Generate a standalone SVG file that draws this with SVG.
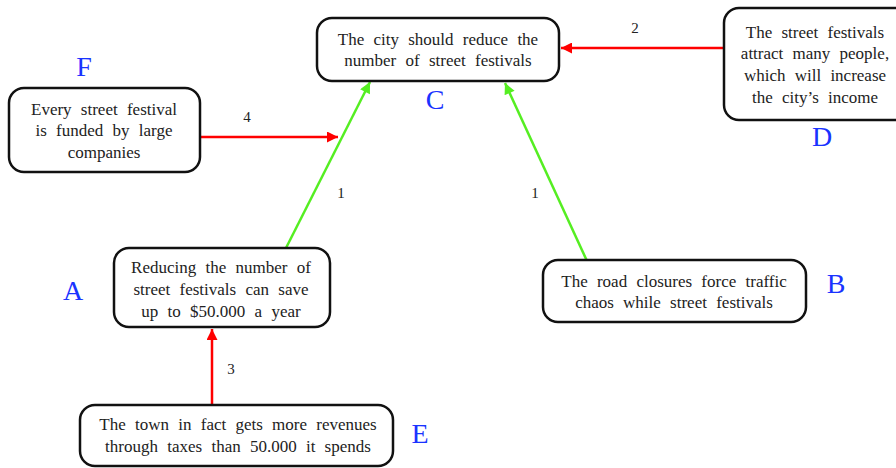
<svg xmlns="http://www.w3.org/2000/svg" width="896" height="468" viewBox="0 0 896 468">
<defs>
<marker id="ar" viewBox="0 0 10 10" refX="10" refY="5" markerWidth="16" markerHeight="11" markerUnits="userSpaceOnUse" orient="auto"><path d="M0,0 L10,5 L0,10 z" fill="#ff0000"/></marker>
<marker id="ag" viewBox="0 0 10 10" refX="10" refY="5" markerWidth="16" markerHeight="11" markerUnits="userSpaceOnUse" orient="auto"><path d="M0,0 L10,5 L0,10 z" fill="#55ee22"/></marker>
</defs>
<style>
.box{fill:#fff;stroke:#111;stroke-width:2.5}
.t{font-family:"Liberation Serif","Times New Roman",serif;font-size:17px;fill:#222;text-anchor:middle;word-spacing:5px}
.lab{font-family:"Liberation Serif","Times New Roman",serif;font-size:28px;fill:#1a33ff;text-anchor:middle}
.n{font-family:"Liberation Serif","Times New Roman",serif;font-size:15px;fill:#222;text-anchor:middle}
.r{stroke:#ff0000;stroke-width:2.5;fill:none;marker-end:url(#ar)}
.g{stroke:#55ee22;stroke-width:2.5;fill:none;marker-end:url(#ag)}
</style>
<rect width="896" height="468" fill="#fff"/>
<g id="connectors">
<line class="r" x1="723" y1="48" x2="561" y2="48"/>
<line class="r" x1="200" y1="137" x2="338" y2="137"/>
<line class="r" x1="212" y1="405" x2="212" y2="329"/>
<line class="g" x1="286" y1="248" x2="370" y2="82"/>
<line class="g" x1="587" y1="261" x2="505" y2="83"/>
<text class="n" x="635" y="33">2</text>
<text class="n" x="247" y="122">4</text>
<text class="n" x="231" y="374">3</text>
<text class="n" x="341" y="198">1</text>
<text class="n" x="535" y="198">1</text>
</g>
<g id="C">
<rect class="box" x="317" y="18" width="242" height="63" rx="15"/>
<text class="t" x="438" y="45">The city should reduce the</text>
<text class="t" x="438" y="66">number of street festivals</text>
<text class="lab" x="435" y="109">C</text>
</g>
<g id="D">
<rect class="box" x="724" y="8" width="190" height="112" rx="15"/>
<text class="t" x="815" y="38">The street festivals</text>
<text class="t" x="815" y="59">attract many people,</text>
<text class="t" x="815" y="81">which will increase</text>
<text class="t" x="815" y="103">the city’s income</text>
<text class="lab" x="822" y="146">D</text>
</g>
<g id="F">
<rect class="box" x="9" y="88" width="191" height="84" rx="15"/>
<text class="t" x="104" y="115">Every street festival</text>
<text class="t" x="104" y="136">is funded by large</text>
<text class="t" x="104" y="158">companies</text>
<text class="lab" x="84" y="76">F</text>
</g>
<g id="A">
<rect class="box" x="114" y="248" width="216" height="79" rx="15"/>
<text class="t" x="221" y="273">Reducing the number of</text>
<text class="t" x="221" y="295">street festivals can save</text>
<text class="t" x="221" y="317">up to $50.000 a year</text>
<text class="lab" x="73" y="300">A</text>
</g>
<g id="B">
<rect class="box" x="543" y="260" width="263" height="62" rx="15"/>
<text class="t" x="674" y="287">The road closures force traffic</text>
<text class="t" x="674" y="308">chaos while street festivals</text>
<text class="lab" x="836" y="293">B</text>
</g>
<g id="E">
<rect class="box" x="80" y="405" width="313" height="61" rx="15"/>
<text class="t" x="238" y="430">The town in fact gets more revenues</text>
<text class="t" x="238" y="452">through taxes than 50.000 it spends</text>
<text class="lab" x="420" y="443">E</text>
</g>
</svg>
